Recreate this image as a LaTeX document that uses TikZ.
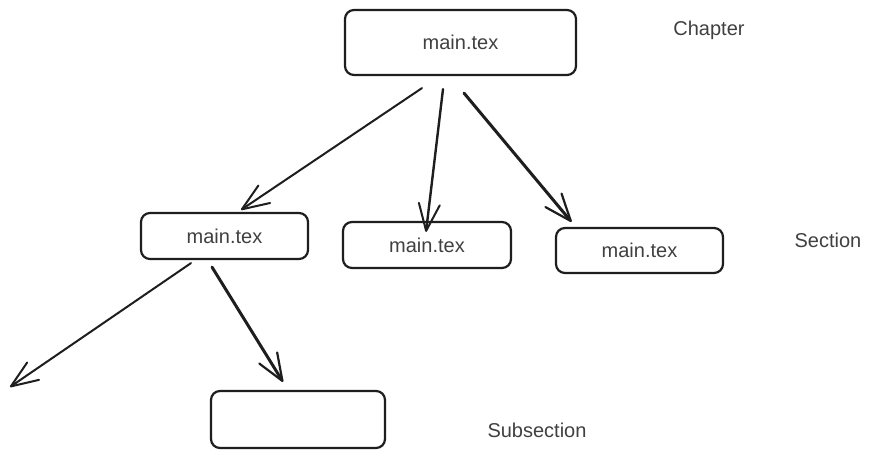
\documentclass[tikz,border=0pt]{standalone}
\usepackage{fontspec}
\setmainfont{Liberation Sans}
\usetikzlibrary{arrows.meta}
\definecolor{ink}{HTML}{1E1E1E}
\tikzset{
  box/.style={draw=ink, line width=2.2pt, rounded corners=9pt, inner sep=0pt, text=ink!85, font=\fontsize{20}{23}\selectfont},
  lbl/.style={text=ink!85, inner sep=0pt, font=\fontsize{20}{23}\selectfont},
  arr/.style={draw=ink, line width=2pt, line cap=round, line join=round, -{Straight Barb[length=27pt, width=21pt, line width=2pt, round]}},
  arrthick/.style={draw=ink, line width=3pt, line cap=round, line join=round, -{Straight Barb[length=27pt, width=21pt, line width=2.2pt, round]}}
}
\begin{document}
\begin{tikzpicture}[x=1pt, y=-1pt]
\useasboundingbox (0,0) rectangle (872,457);
\fill[white] (0,0) rectangle (872,457);
\node[box, minimum width=231pt, minimum height=65pt] (top) at (460.5,42.5) {main.tex};
\node[box, minimum width=167pt, minimum height=46pt] (sa) at (224.5,236) {main.tex};
\node[box, minimum width=168pt, minimum height=46pt] (sb) at (427,245) {main.tex};
\node[box, minimum width=167pt, minimum height=45pt] (sc) at (639.5,250.5) {main.tex};
\node[box, minimum width=174pt, minimum height=57pt] (sub) at (298,419.5) {};
\node[lbl] (chap) at (709,30) {Chapter};
\node[lbl] (sect) at (828,240) {Section};
\node[lbl] (subs) at (537,430) {Subsection};
\coordinate (free) at (10,387);
\draw[arr] ([xshift=-38.5pt,yshift=-12pt]top.south) -- ([xshift=16.5pt,yshift=2pt]sa.north);
\draw[arr, line width=2.4pt] ([xshift=-17.5pt,yshift=-13pt]top.south) -- ([xshift=-1pt,yshift=-11pt]sb.north);
\draw[arrthick] ([xshift=3.5pt,yshift=-17pt]top.south) -- ([xshift=-68pt,yshift=5pt]sc.north);
\draw[arr] ([xshift=-33.5pt,yshift=-3pt]sa.south) -- (free);
\draw[arrthick] ([xshift=-12.5pt,yshift=-7pt]sa.south) -- ([xshift=-15pt,yshift=8pt]sub.north);
\end{tikzpicture}
\end{document}
